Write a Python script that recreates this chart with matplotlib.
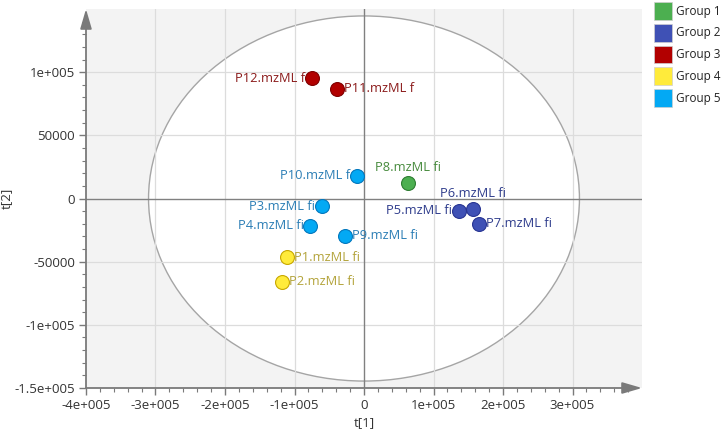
import matplotlib
matplotlib.use("Agg")
import matplotlib.pyplot as plt
from matplotlib.patches import Ellipse, Patch
import numpy as np

plt.rcParams['font.family'] = ['Open Sans', 'DejaVu Sans']

# score plot data (t[1], t[2])
names = ['P1.mzML fi', 'P2.mzML fi', 'P3.mzML fi', 'P4.mzML fi', 'P5.mzML fi', 'P6.mzML fi',
         'P7.mzML fi', 'P8.mzML fi', 'P9.mzML fi', 'P10.mzML f', 'P11.mzML f', 'P12.mzML f']
t1 = [-111000, -118000, -61000, -77000, 136000, 157000, 165000, 64000, -27000, -10000, -39000, -75000]
t2 = [-46500, -66000, -6000, -21500, -9500, -8500, -20000, 12500, -29500, 18000, 87000, 95000]
groups = [4, 4, 5, 5, 2, 2, 2, 1, 5, 5, 3, 3]
label_side = ['right', 'right', 'left', 'left', 'left', 'top', 'right', 'top', 'right', 'left', 'right', 'left']

group_names = ['Group 1', 'Group 2', 'Group 3', 'Group 4', 'Group 5']
fill_cols = {1: '#4caf50', 2: '#3f51b5', 3: '#b20000', 4: '#ffeb3b', 5: '#03a9f4'}
edge_cols = {1: '#2e7d32', 2: '#283593', 3: '#7f0000', 4: '#c8a800', 5: '#0277bd'}
text_cols = {1: '#468a3c', 2: '#2e3c8c', 3: '#8b1a1a', 4: '#b3a33a', 5: '#2a7db5'}

# Hotelling ellipse radii
ell_a = 310000
ell_b = 144500

xticks = [-400000, -300000, -200000, -100000, 0, 100000, 200000, 300000]
xticklabels = ['-4e+005', '-3e+005', '-2e+005', '-1e+005', '0', '1e+005', '2e+005', '3e+005']
yticks = [-150000, -100000, -50000, 0, 50000, 100000]
yticklabels = ['-1.5e+005', '-1e+005', '-50000', '0', '50000', '1e+005']

fig = plt.figure(figsize=(7.27, 4.34), dpi=100)
ax = fig.add_axes([86/727, 1-388/434, (642-86)/727, (388-9)/434])
ax.set_facecolor('#f3f3f3')
ax.set_xlim(-400000, 400000)
ax.set_ylim(-150000, 150000)

ax.add_patch(Ellipse((0, 0), 2*ell_a, 2*ell_b, facecolor='white', edgecolor='#a5a5a5', lw=1.0, zorder=1))

for x in xticks[1:]:
    if x != 0:
        ax.axvline(x, color='#dcdcdc', lw=0.9, zorder=2)
for y in yticks[1:]:
    if y != 0:
        ax.axhline(y, color='#dcdcdc', lw=0.9, zorder=2)
ax.axvline(0, color='#808080', lw=1.0, zorder=2)
ax.axhline(0, color='#808080', lw=1.0, zorder=2)

for sp in ax.spines.values():
    sp.set_visible(False)

ax.annotate('', xy=(1.0, 0), xytext=(0, 0), xycoords='axes fraction',
            arrowprops=dict(arrowstyle='-|>,head_length=1.2,head_width=0.35', color='#7a7a7a', lw=1.3,
                            shrinkA=0, shrinkB=0), zorder=6)
ax.annotate('', xy=(0, 1.0), xytext=(0, 0), xycoords='axes fraction',
            arrowprops=dict(arrowstyle='-|>,head_length=1.2,head_width=0.35', color='#7a7a7a', lw=1.3,
                            shrinkA=0, shrinkB=0), zorder=6)

ax.set_xticks(xticks)
ax.set_xticklabels(xticklabels)
ax.set_yticks(yticks)
ax.set_yticklabels(yticklabels)
ax.set_xticks(np.arange(-400000, 380001, 20000), minor=True)
ax.set_yticks(np.arange(-150000, 140001, 10000), minor=True)
ax.tick_params(which='major', length=5, width=1, color='#7a7a7a', labelsize=9.5, labelcolor='#333333', pad=3)
ax.tick_params(which='minor', length=3, width=0.8, color='#7a7a7a')
ax.set_xlabel('t[1]', fontsize=9.5, color='#333333')
ax.set_ylabel('t[2]', fontsize=9.5, color='#333333')
ax.xaxis.set_label_coords(0.5, -0.075)
ax.yaxis.set_label_coords(-0.132, 0.5)

for i in range(len(names)):
    g = groups[i]
    ax.scatter(t1[i], t2[i], s=100, color=fill_cols[g], edgecolors=edge_cols[g], linewidths=0.8, zorder=5)
    side = label_side[i]
    if side == 'left':
        off, ha, va = (-5, 0), 'right', 'center'
    elif side == 'right':
        off, ha, va = (5, 0), 'left', 'center'
    else:
        off, ha, va = (0, 6.5), 'center', 'bottom'
    ax.annotate(names[i], (t1[i], t2[i]), xytext=off, textcoords='offset points',
                ha=ha, va=va, fontsize=9.3, color=text_cols[g], zorder=7)

handles = [Patch(facecolor=fill_cols[k+1], edgecolor='#cfcfcf', lw=0.5) for k in range(5)]
fig.legend(handles, group_names, loc='upper left', bbox_to_anchor=(654/727, 1-2/434),
           frameon=False, fontsize=8.5, handlelength=1.55, handleheight=1.95,
           labelspacing=0.33, handletextpad=0.3, borderpad=0, borderaxespad=0,
           labelcolor='#222222')

fig.savefig('out.png', dpi=100)
